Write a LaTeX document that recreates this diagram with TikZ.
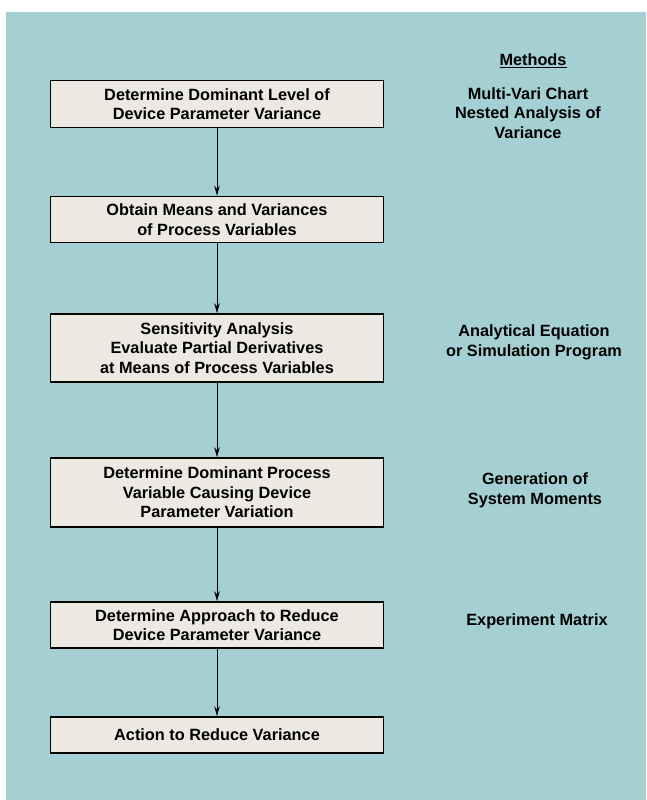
\documentclass[tikz,border=0pt]{standalone}
\usepackage{fontspec}
\setmainfont{Liberation Sans}
\usetikzlibrary{arrows.meta}
\definecolor{panel}{HTML}{A4D0D4}
\definecolor{boxfill}{HTML}{EBE9E1}
\begin{document}
\begin{tikzpicture}[x=1pt,y=-1pt,
  stepbox/.style={draw=black, line width=1.6pt, fill=boxfill,
    minimum width=333pt, align=center, inner sep=0pt,
    font=\fontsize{16.3}{19.5}\selectfont\bfseries},
  method/.style={align=center, font=\fontsize{16.3}{19.8}\selectfont\bfseries},
  flow/.style={line width=0.9pt, -{Stealth[length=10pt,width=5.5pt]}}]
  % page and tinted panel
  \fill[white] (0,0) rectangle (646,800);
  \fill[panel] (6,12) rectangle (646,800);
  \useasboundingbox (0,0) rectangle (646,800);

  % process steps
  \node[stepbox, minimum height=47pt] (s1) at (217,104)
    {Determine Dominant Level of\\Device Parameter Variance};
  \node[stepbox, minimum height=46pt] (s2) at (217,219.5)
    {Obtain Means and Variances\\of Process Variables};
  \node[stepbox, minimum height=68pt] (s3) at (217,348)
    {Sensitivity Analysis\\Evaluate Partial Derivatives\\at Means of Process Variables};
  \node[stepbox, minimum height=69pt] (s4) at (217,492.5)
    {Determine Dominant Process\\Variable Causing Device\\Parameter Variation};
  \node[stepbox, minimum height=46pt] (s5) at (217,625)
    {Determine Approach to Reduce\\Device Parameter Variance};
  \node[stepbox, minimum height=36pt] (s6) at (217,735)
    {Action to Reduce Variance};

  \draw[flow] (s1) -- (s2);
  \draw[flow] (s2) -- (s3);
  \draw[flow] (s3) -- (s4);
  \draw[flow] (s4) -- (s5);
  \draw[flow] (s5) -- (s6);

  % methods column
  \node[method] (mh) at (533,61) {\underline{Methods}};
  \node[method] (m1) at (528,113) {Multi-Vari Chart\\Nested Analysis of\\Variance};
  \node[method] (m3) at (534,342) {Analytical Equation\\or Simulation Program};
  \node[method] (m4) at (535,490) {Generation of\\System Moments};
  \node[method] (m5) at (537,621) {Experiment Matrix};
\end{tikzpicture}
\end{document}
